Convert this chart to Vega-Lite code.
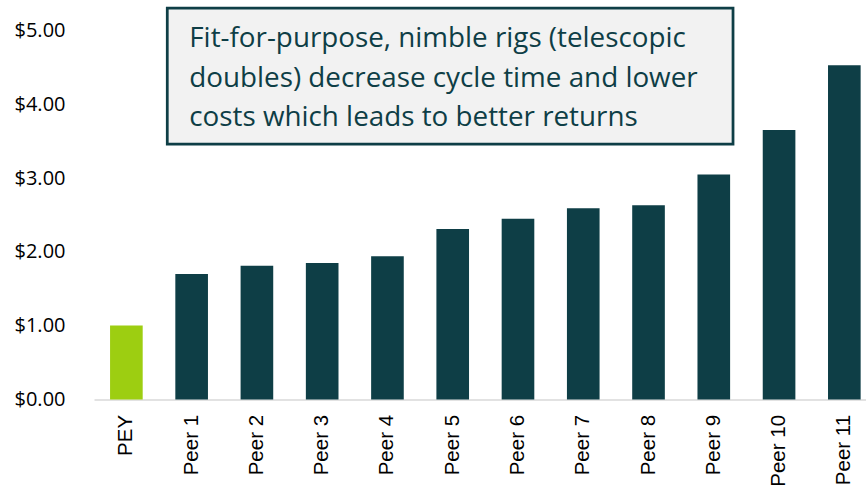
{
  "$schema": "https://vega.github.io/schema/vega-lite/v6.json",
  "autosize": {"type": "none"},
  "padding": {"left": 94, "top": 1, "right": 0, "bottom": 88.6},
  "width": 772,
  "height": 398.4,
  "config": {"view": {"stroke": null}},
  "datasets": {
    "bars": [
      {"company": "PEY", "group": "PEY", "value": 1.00},
      {"company": "Peer 1", "group": "Peer", "value": 1.70},
      {"company": "Peer 2", "group": "Peer", "value": 1.81},
      {"company": "Peer 3", "group": "Peer", "value": 1.85},
      {"company": "Peer 4", "group": "Peer", "value": 1.94},
      {"company": "Peer 5", "group": "Peer", "value": 2.31},
      {"company": "Peer 6", "group": "Peer", "value": 2.45},
      {"company": "Peer 7", "group": "Peer", "value": 2.59},
      {"company": "Peer 8", "group": "Peer", "value": 2.63},
      {"company": "Peer 9", "group": "Peer", "value": 3.05},
      {"company": "Peer 10", "group": "Peer", "value": 3.65},
      {"company": "Peer 11", "group": "Peer", "value": 4.53}
    ],
    "box": [
      {"x1": 1.139, "x2": 9.933, "y1": 5.305, "y2": 3.461}
    ],
    "note": [
      {"x": 1.481, "y": 4.776, "line": "Fit-for-purpose, nimble rigs (telescopic"},
      {"x": 1.481, "y": 4.241, "line": "doubles) decrease cycle time and lower"},
      {"x": 1.481, "y": 3.712, "line": "costs which leads to better returns"}
    ]
  },
  "layer": [
    {
      "data": {"name": "bars"},
      "mark": {"type": "bar"},
      "encoding": {
        "x": {
          "field": "company",
          "type": "nominal",
          "sort": null,
          "scale": {"paddingInner": 0.5, "paddingOuter": 0.164, "align": 0.75},
          "axis": {
            "title": null,
            "labelAngle": -90,
            "ticks": false,
            "labelPadding": 15,
            "labelFont": "Liberation Sans",
            "labelFontSize": 20.5,
            "labelColor": "#000000",
            "domainColor": "#d9d9d9",
            "domainWidth": 1.5
          }
        },
        "y": {
          "field": "value",
          "type": "quantitative",
          "scale": {"domain": [0, 5.4], "nice": false},
          "axis": {
            "title": null,
            "values": [0, 1, 2, 3, 4, 5],
            "format": "$.2f",
            "grid": false,
            "domain": false,
            "ticks": false,
            "labelPadding": 29,
            "labelFont": "Open Sans",
            "labelFontSize": 20,
            "labelColor": "#000000"
          }
        },
        "color": {
          "field": "group",
          "type": "nominal",
          "scale": {"domain": ["PEY", "Peer"], "range": ["#9dce11", "#0e3e46"]},
          "legend": null
        }
      }
    },
    {
      "data": {"name": "box"},
      "mark": {"type": "rect", "fill": "#f2f2f2", "stroke": "#0e3e46", "strokeWidth": 2.75},
      "encoding": {
        "x": {"field": "x1", "type": "quantitative", "scale": {"domain": [0, 12], "nice": false, "zero": false}, "axis": null},
        "x2": {"field": "x2"},
        "y": {"field": "y1", "type": "quantitative"},
        "y2": {"field": "y2"}
      }
    },
    {
      "data": {"name": "note"},
      "mark": {"type": "text", "align": "left", "baseline": "alphabetic", "font": "Open Sans", "fontSize": 27.8, "color": "#0e3e46"},
      "encoding": {
        "x": {"field": "x", "type": "quantitative", "scale": {"domain": [0, 12], "nice": false, "zero": false}, "axis": null},
        "y": {"field": "y", "type": "quantitative"},
        "text": {"field": "line"}
      }
    }
  ],
  "resolve": {"scale": {"x": "independent"}}
}
